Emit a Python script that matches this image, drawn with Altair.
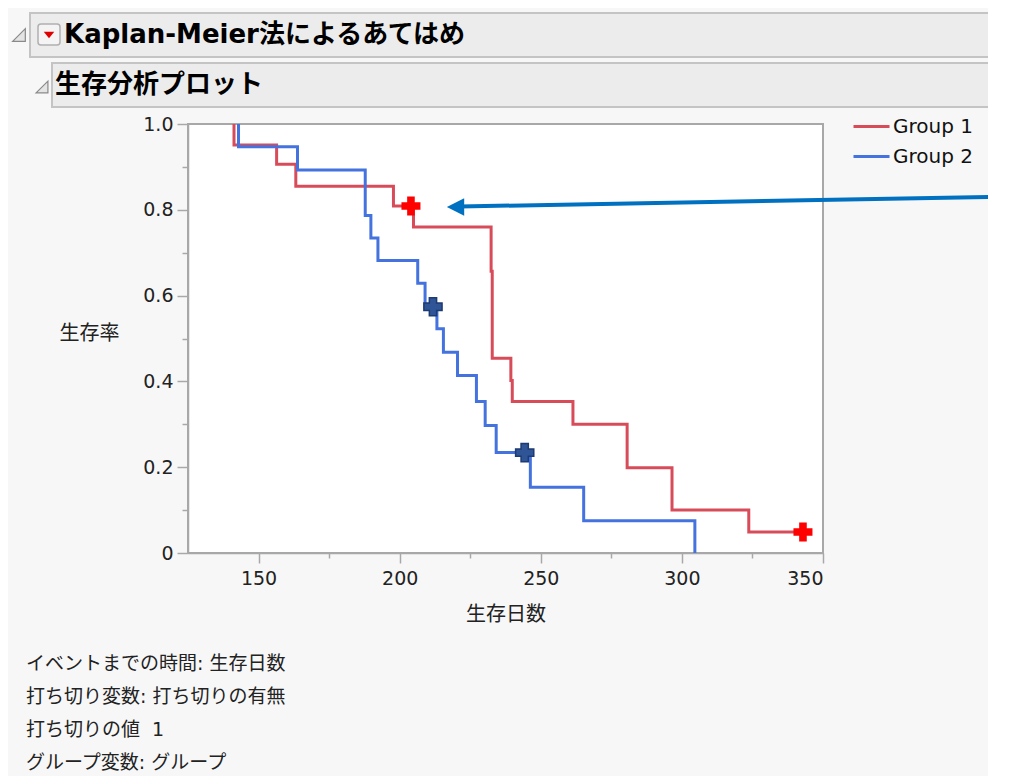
import altair as alt
import pandas as pd

# ---- data ----
groups = ["Group 1", "Group 2"]
g1_time = [141.3, 141.3, 156.4, 163.2, 197.8, 204.9, 232.4, 232.8, 239.4, 239.9, 261.4, 280.6, 296.5, 323.7, 342.9]
g1_surv = [1.0, 0.951, 0.906, 0.855, 0.809, 0.760, 0.657, 0.454, 0.402, 0.353, 0.300, 0.199, 0.100, 0.049, 0.049]
g2_time = [142.9, 142.9, 163.8, 187.8, 189.8, 192.3, 206.4, 209.0, 213.2, 215.5, 220.5, 227.2, 230.3, 234.2, 246.3, 265.2, 304.6]
g2_surv = [1.0, 0.947, 0.893, 0.787, 0.734, 0.682, 0.629, 0.573, 0.523, 0.468, 0.414, 0.353, 0.297, 0.234, 0.153, 0.075, 0.0]
g1_cens_time = [204.0, 342.9]
g1_cens_surv = [0.809, 0.049]
g2_cens_time = [211.8, 244.3]
g2_cens_surv = [0.574, 0.234]

x_ticks = [150, 175, 200, 225, 250, 275, 300, 325, 350]
y_ticks = [0.0, 0.1, 0.2, 0.3, 0.4, 0.5, 0.6, 0.7, 0.8, 0.9, 1.0]

title_main = "Kaplan-Meier法によるあてはめ"
title_sub = "生存分析プロット"
x_title = "生存日数"
y_title = "生存率"
footer_lines = ["イベントまでの時間: 生存日数", "打ち切り変数: 打ち切りの有無", "打ち切りの値\u00a0\u00a01", "グループ変数: グループ"]

RED = "#d84c5a"
BLUE = "#4472de"
JP = "Noto Sans CJK JP"
MIX = "DejaVu Sans, Noto Sans CJK JP"
AXC = "#a8a8a8"

lines_df = pd.DataFrame({
    "group": [groups[0]] * len(g1_time) + [groups[1]] * len(g2_time),
    "time": g1_time + g2_time,
    "surv": g1_surv + g2_surv,
    "ord": list(range(len(g1_time))) + list(range(len(g2_time))),
})
c1_df = pd.DataFrame({"time": g1_cens_time, "surv": g1_cens_surv})
c2_df = pd.DataFrame({"time": g2_cens_time, "surv": g2_cens_surv})
one = pd.DataFrame({"k": [0]})

X = alt.X("time:Q",
          scale=alt.Scale(domain=[125, 350], nice=False, zero=False),
          axis=alt.Axis(values=x_ticks, title=x_title, grid=False,
                        labelExpr="datum.value % 50 === 0 ? datum.label : ''",
                        tickSize={"condition": {"test": "datum.value % 50 === 0", "value": 10}, "value": 5},
                        tickWidth=1.5, tickColor=AXC, domainColor=AXC, domainWidth=1.5,
                        labelFont="DejaVu Sans", labelFontSize=19, labelColor="#222",
                        labelPadding=6, titleFont=JP, titleFontSize=20,
                        titleFontWeight="normal", titleColor="#222",
                        titleY=61, titleBaseline="middle"))
Y = alt.Y("surv:Q",
          scale=alt.Scale(domain=[0, 1], nice=False),
          axis=alt.Axis(values=y_ticks, title=y_title, grid=False,
                        labelExpr="round(datum.value*10) % 2 === 0 ? (datum.value === 0 ? '0' : format(datum.value, '.1f')) : ''",
                        tickSize={"condition": {"test": "round(datum.value*10) % 2 === 0", "value": 11}, "value": 6},
                        tickWidth=1.5, tickColor=AXC, domainColor=AXC, domainWidth=1.5,
                        labelFont="DejaVu Sans", labelFontSize=19, labelColor="#222",
                        labelPadding=4, titleFont=JP, titleFontSize=20,
                        titleFontWeight="normal", titleColor="#222", titleAngle=0,
                        titleX=-99, titleY=209, titleAlign="center", titleBaseline="middle"))

lines = alt.Chart(lines_df).mark_line(interpolate="step-after", strokeWidth=3).encode(
    x=X, y=Y, order="ord:Q",
    color=alt.Color("group:N", scale=alt.Scale(domain=groups, range=[RED, BLUE]),
                    legend=alt.Legend(title=None, orient="none", legendX=664, legendY=-17,
                                      symbolType="stroke", symbolSize=1296, symbolStrokeWidth=3,
                                      labelFont="DejaVu Sans", labelFontSize=20, labelColor="#111",
                                      rowPadding=-15, padding=0, labelOffset=2)))

cens1 = alt.Chart(c1_df).mark_point(shape="cross", filled=True, size=361, fill="#ff0000",
                                    opacity=1, strokeWidth=0).encode(x=X, y=Y)
cens2 = alt.Chart(c2_df).mark_point(shape="cross", filled=True, size=330, fill="#2f5597",
                                    stroke="#1d3a72", strokeWidth=1.5, opacity=1).encode(x=X, y=Y)

# ---- decorations (pixel positions relative to the plot origin) ----
def rect(x, x2, y, y2, **kw):
    return alt.Chart(one).mark_rect(**kw).encode(x=alt.value(x), x2=alt.value(x2), y=alt.value(y), y2=alt.value(y2))

def text(t, x, y, **kw):
    return alt.Chart(one).mark_text(text=t, align="left", baseline="middle", **kw).encode(x=alt.value(x), y=alt.value(y))

def sym(shape, x, y, size, **kw):
    return alt.Chart(one).mark_point(shape=shape, filled=True, size=size, opacity=1, **kw).encode(x=alt.value(x), y=alt.value(y))

TRI = "M1,-1 L1,1 L-1,1 Z"
bar1 = rect(-158, 830, -111, -67, fill="#ececec", stroke="#c4c4c4", strokeWidth=2)
bar2 = rect(-136, 830, -61, -17, fill="#ececec", stroke="#c4c4c4", strokeWidth=2)
tri1 = sym(TRI, -169, -89, 160, fill="#e4e4e4", stroke="#8a8a8a", strokeWidth=1.2)
tri2 = sym(TRI, -146, -37, 140, fill="#e4e4e4", stroke="#8a8a8a", strokeWidth=1.2)
drop_box = rect(-150, -128, -100, -79, fill="#f4f4f4", stroke="#b0b0b0", strokeWidth=1.5, cornerRadius=3)
drop_tri = sym("M-1,-0.6 L1,-0.6 L0,0.6 Z", -139, -89, 110, fill="#e00000")
t1 = text(title_main, -124, -89, font=MIX, fontSize=26, fontWeight="bold", color="#000")
t2 = text(title_sub, -133, -39, font=JP, fontSize=26, fontWeight="bold", color="#000")
footer = [text(s, -162, 540 + i * 33, font=MIX, fontSize=19, color="#222") for i, s in enumerate(footer_lines)]

arrow_line = alt.Chart(one).mark_rule(strokeWidth=4, color="#0070c0").encode(
    x=alt.value(272), x2=alt.value(830), y=alt.value(82.5), y2=alt.value(72.5))
arrow_head = sym("M-1,0 L1,-1 L1,1 Z", 267.5, 83, 300, fill="#0070c0")

chart = alt.layer(
    bar1, bar2, tri1, tri2, drop_box, drop_tri, t1, t2, *footer,
    lines, cens1, cens2, arrow_line, arrow_head,
).properties(
    width=635, height=429,
    padding={"left": 180, "top": 116, "right": 165, "bottom": 223},
    autosize=alt.AutoSizeParams(type="none"),
).configure(background="#f7f7f7").configure_view(fill="white", stroke="#a8a8a8", strokeWidth=2)

chart.save("out.html", embed_options={"renderer": "svg", "actions": False})
